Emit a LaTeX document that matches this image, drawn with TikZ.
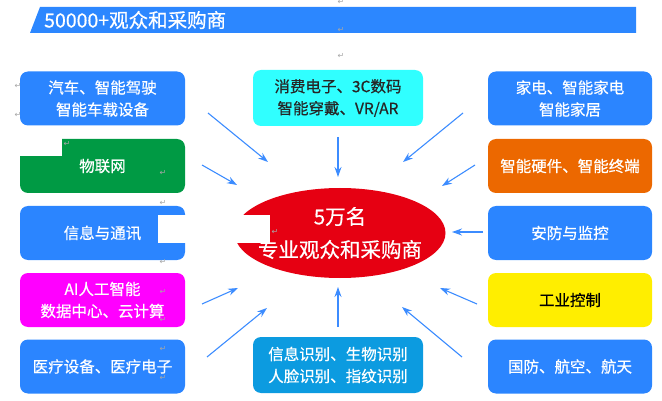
\documentclass[tikz,border=0pt]{standalone}
\usepackage{fontspec}
\setmainfont{Noto Sans CJK SC}[FakeBold=0.6]
\newfontfamily\markfont{DejaVu Sans}
\usetikzlibrary{shapes.geometric,arrows.meta}
\definecolor{barblue}{RGB}{44,135,255}
\definecolor{boxblue}{RGB}{43,133,255}
\definecolor{iotgreen}{RGB}{0,154,68}
\definecolor{aimag}{RGB}{255,0,255}
\definecolor{cecyan}{RGB}{48,255,255}
\definecolor{hworange}{RGB}{236,104,0}
\definecolor{indyellow}{RGB}{255,238,0}
\definecolor{idblue}{RGB}{12,155,224}
\definecolor{crowdred}{RGB}{230,0,18}
\definecolor{arrblue}{RGB}{60,140,255}

\begin{document}
\begin{tikzpicture}[x=1pt,y=-1pt,
  blk/.style={rounded corners=8pt,minimum width=165pt,minimum height=54pt,inner sep=0pt,
    text=white,align=center,font=\fontsize{15.5}{22}\selectfont},
  arr/.style={draw=arrblue,line width=1.1pt,-{Stealth[length=10pt,width=7pt]}},
  pmark/.style={inner sep=0pt,text=gray!70,font=\markfont\fontsize{8}{8}\selectfont}]
\useasboundingbox (0,0) rectangle (662,401);
% title bar
\fill[barblue] (40,7)-- (636,7)-- (636,33)-- (30,33)-- cycle;
\node[anchor=west,inner sep=0pt,text=white,font=\fontsize{19.5}{20}\selectfont] (title) at (44,20) {50000+观众和采购商};
% left column
\node[blk,fill=boxblue] (car) at (102.5,98.5) {汽车、智能驾驶\\智能车载设备};
\node[blk,fill=iotgreen] (iot) at (102.5,166) {物联网};
\node[blk,fill=boxblue] (com) at (102.5,233) {信息与通讯};
\node[blk,fill=aimag] (ai) at (102.5,300) {AI人工智能\\数据中心、云计算};
\node[blk,fill=boxblue] (med) at (102.5,366.5) {医疗设备、医疗电子};
% middle column
\node[blk,fill=cecyan,text=black!85,minimum width=170pt,minimum height=56pt] (ce) at (338,98) {消费电子、3C数码\\智能穿戴、VR/AR};
\node[blk,fill=idblue,minimum width=170pt,minimum height=56pt] (ident) at (338,365) {信息识别、生物识别\\人脸识别、指纹识别};
% right column
\node[blk,fill=boxblue,minimum width=164pt] (home) at (570,98.5) {家电、智能家电\\智能家居};
\node[blk,fill=hworange,minimum width=164pt] (hw) at (570,166) {智能硬件、智能终端};
\node[blk,fill=boxblue,minimum width=164pt] (sec) at (570,233) {安防与监控};
\node[blk,fill=indyellow,text=black,minimum width=164pt] (ind) at (570,300) {工业控制};
\node[blk,fill=boxblue,minimum width=164pt] (def) at (570,366.5) {国防、航空、航天};
% centre
\node[ellipse,fill=crowdred,minimum width=211pt,minimum height=90pt,inner sep=0pt] (crowd) at (340,233) {};
\node[align=center,text=white,inner sep=0pt,font=\fontsize{20.5}{33}\selectfont] (crowdtxt) at (crowd.center) {5万名\\专业观众和采购商};
% arrows
\coordinate (s1) at (208,113); \coordinate (e1) at (268,162);
\coordinate (s2) at (202,165); \coordinate (e2) at (237,185);
\coordinate (s3) at (202,304); \coordinate (e3) at (238,288);
\coordinate (s4) at (207,357); \coordinate (e4) at (267,308);
\coordinate (s5) at (338,137); \coordinate (e5) at (338,177);
\coordinate (s6) at (463,113); \coordinate (e6) at (403,162);
\coordinate (s7) at (475,165); \coordinate (e7) at (442,186);
\coordinate (s8) at (483,232); \coordinate (e8) at (452,232);
\coordinate (s9) at (477,304); \coordinate (e9) at (440,288);
\coordinate (s10) at (462,357); \coordinate (e10) at (402,307);
\coordinate (s11) at (338,327); \coordinate (e11) at (338,287);
\foreach \i in {1,...,11}
  \draw[arr] (s\i)-- (e\i);
% white patches
\fill[white] (0,138) rectangle (62,156);
\fill[white] (158,215) rectangle (270,243);
% paragraph marks
\node[pmark] (m1) at (341,2) {↵};
\node[pmark] (m2) at (341,30) {↵};
\node[pmark] (m3) at (341,56) {↵};
\node[pmark] (m4) at (18,86) {↵};
\node[pmark] (m5) at (18,115) {↵};
\node[pmark] (m6) at (67,144) {↵};
\node[pmark] (m7) at (163,173) {↵};
\node[pmark] (m8) at (163,203) {↵};
\node[pmark] (m9) at (163,262) {↵};
\node[pmark] (m10) at (163,292) {↵};
\node[pmark] (m11) at (163,320) {↵};
\node[pmark] (m12) at (163,349) {↵};
\node[pmark] (m13) at (163,378) {↵};
\node[pmark] (m14) at (275,232) {↵};
\end{tikzpicture}
\end{document}
